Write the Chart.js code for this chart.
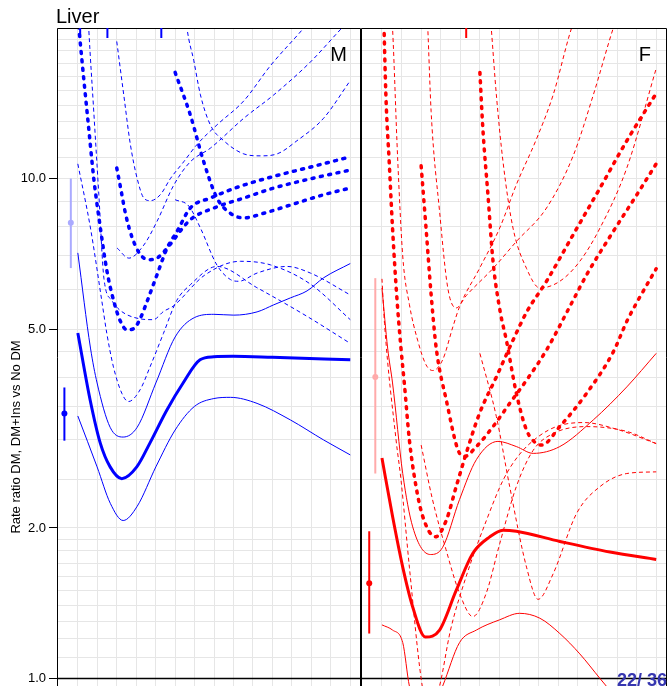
<!DOCTYPE html>
<html>
<head>
<meta charset="utf-8">
<title>Liver</title>
<script src="https://cdn.jsdelivr.net/npm/chart.js@4.4.1/dist/chart.umd.min.js"></script>
<style>
  html, body { margin: 0; padding: 0; background: #fff; }
  #wrap { position: relative; width: 667px; height: 686px; overflow: hidden; }
  #m-panel { position: absolute; left: 0; top: 0; width: 361px; height: 686px; }
  #f-panel { position: absolute; left: 361px; top: 0; width: 306px; height: 686px; }
</style>
</head>
<body>
<div id="wrap">
  <canvas id="m-panel" width="361" height="686"></canvas>
  <canvas id="f-panel" width="306" height="686"></canvas>
</div>
<script>
const FONT = '"Liberation Sans", Arial, Helvetica, sans-serif';
Chart.defaults.font.family = FONT;

// ─── Axes ─────────────────────────────────────────────────────────────────────
const X_MIN = -1.07, X_MAX = 14.5;
const Y_MIN = 0.966, Y_MAX = 20;
const xGrid = [0, 1, 2, 3, 4, 5, 6, 7, 8, 9, 10, 11, 12, 13, 14];
const yGrid = [1, 1.1, 1.2, 1.3, 1.4, 1.5, 1.6, 1.7, 1.8, 1.9, 2, 2.5, 3, 3.5, 4, 4.5,
               5, 6, 7, 8, 9, 10, 11, 12, 13, 14, 15, 16, 17, 18, 19, 20];
const yLabelled = [1, 2, 5, 10];

const BLUE = '#0000ff', RED = '#ff0000';
const PALE_BLUE = '#aaaaff', PALE_RED = '#ffaaaa';

// ─── Reference estimates (point + CI) left of the curves ──────────────────────
const mRefX  = [-0.69, -0.36];
const mRefY  = [3.39, 8.16];
const mRefLo = [2.99, 6.62];
const mRefHi = [3.82, 10.0];

const fRefX  = [-0.65, -0.34];
const fRefY  = [1.55, 4.01];
const fRefLo = [1.23, 2.57];
const fRefHi = [1.97, 6.32];

// rug marks at the top
const mRug = [0.12, 1.52, 4.29];
const fRug = [4.3];

// ─── M: DM vs No DM ───────────────────────────────────────────────────────────
const mDmEst = [[0,4.91],[0.63,3.61],[1.15,2.96],[1.66,2.65],[2.26,2.51],[3.03,2.65],[3.71,2.96],
  [4.57,3.44],[5.41,3.90],[6.28,4.34],[6.99,4.40],[7.98,4.41],[10,4.39],[14,4.34]];
const mDmHi = [[0,7.10],[0.65,4.58],[0.99,3.90],[1.66,3.18],[2.33,3.04],[3.05,3.18],[4.01,3.90],
  [5.0,4.82],[5.99,5.27],[6.99,5.35],[8.01,5.33],[9.21,5.41],[10.07,5.59],[10.92,5.77],
  [11.78,5.96],[12.63,6.33],[14,6.76]];
const mDmLo = [[0,3.35],[0.99,2.65],[1.67,2.24],[2.33,2.07],[3.05,2.21],[4.01,2.65],[5.0,3.14],
  [5.99,3.50],[6.99,3.63],[7.84,3.65],[9.21,3.55],[10.92,3.29],[12.63,3.00],[14,2.80]];

// ─── M: DM+Ins, insulin from 0, 2, 5 ──────────────────────────────────────────
const mIns0 = [[0,21],[0.3,15.9],[0.56,12.6],[0.82,10.0],[1.16,7.96],[1.5,6.52],[1.85,5.68],
  [2.19,5.18],[2.53,4.98],[2.88,5.01],[3.22,5.26],[3.56,5.68],[4.07,6.42],[4.59,7.26],[5.1,7.84],
  [5.78,8.73],[6.81,9.14],[8.35,9.65],[10.07,10.1],[11.78,10.5],[14,11.05]];
const mIns2 = [[2,10.5],[2.2,9.57],[2.46,8.47],[2.8,7.60],[3.22,7.04],[3.65,6.88],[4.07,6.93],
  [4.59,7.26],[5.78,8.27],[6.99,8.73],[8.53,9.14],[10.07,9.57],[11.78,9.95],[14,10.4]];
const mIns5 = [[5,16.3],[5.78,13.4],[6.47,10.8],[7.15,9.14],[7.84,8.52],[8.53,8.34],[9.55,8.52],
  [10.92,8.85],[12.63,9.28],[14,9.57]];

const mBand0A = [[0,10.7],[0.65,7.96],[1.23,5.7],[1.49,4.9],[1.83,4.2],[2.26,3.72],[2.6,3.58],
  [3.2,3.78],[3.71,4.2],[4.4,4.9],[5.08,5.7],[5.78,6.13],[7.15,6.67],[9.2,6.05],[11.78,5.3],[14,4.68]];
const mBand0B = [[0.35,30],[0.56,20],[0.82,13.6],[1.08,9.28],[1.34,6.32],[1.75,5.7],[2.17,5.45],
  [3.2,5.24],[3.88,5.22],[4.4,5.42],[4.91,5.56],[6.5,6.4],[8.35,6.83],[9.89,6.72],[11.95,6.15],[14,5.22]];
const mBand2A = [[2.02,7.26],[2.62,6.93],[3.39,7.36],[4.07,8.21],[4.93,9.7],[5.78,10.8],[6.81,11.5],
  [8.53,13.2],[10.07,14.7],[11.95,17.1],[13.57,20],[14,20.8]];
const mBand2B = [[2,18.8],[2.36,14.7],[2.7,11.7],[3.05,10.0],[3.39,9.14],[3.73,9.03],[4.24,9.28],
  [4.76,10.0],[5.44,10.8],[6.13,11.7],[7.15,12.8],[8.53,14.3],[9.89,16.8],[11.61,20],[14,26]];
const mBand5Hi = [[5,35],[5.61,20],[5.96,17.2],[6.3,14.7],[6.81,12.8],[7.5,11.9],[8.53,11.2],
  [9.38,11.1],[10.24,11.2],[11.26,11.9],[12.63,13.2],[14,15.7]];
const mBand5Lo = [[5,9.07],[5.7,8.81],[6.3,7.96],[7.15,6.71],[7.84,6.28],[8.27,6.23],[9.21,6.47],
  [10.75,6.67],[11.95,6.47],[14,5.85]];

// ─── F: DM vs No DM ───────────────────────────────────────────────────────────
const fDmEst = [[0,2.76],[0.54,2.11],[1.06,1.67],[1.57,1.39],[2.22,1.21],[2.94,1.25],[3.79,1.50],
  [4.64,1.78],[5.5,1.92],[6.18,1.98],[6.86,1.97],[9.08,1.88],[11.64,1.79],[14,1.73]];
const fDmHi = [[0,6.04],[0.29,4.58],[0.54,3.9],[1.06,2.57],[1.57,2.01],[2.47,1.77],[3.1,1.83],
  [3.96,2.28],[4.82,2.74],[5.92,2.98],[6.86,2.91],[7.72,2.82],[9.08,2.91],[10.79,3.29],[12.5,3.83],[14,4.47]];
const fDmLo = [[0,1.28],[0.54,1.25],[1.06,1.18],[1.4,0.966],[2.2,0.8],[3.1,0.966],[3.96,1.18],
  [4.82,1.25],[6.0,1.31],[7.03,1.35],[8.06,1.32],[9.08,1.23],[10.1,1.12],[11.13,1.0],[12.3,0.88],[14,0.72]];

// ─── F: DM+Ins, insulin from 0, 2, 5 ──────────────────────────────────────────
const fIns0 = [[0,30],[0.2,14.7],[0.37,10.8],[0.54,7.96],[0.75,5.86],[0.97,4.58],[1.14,3.9],[1.4,3.0],
  [1.74,2.42],[2.08,2.11],[2.73,1.92],[3.28,2.07],[3.79,2.42],[4.3,2.82],[4.98,3.39],[5.84,4.01],
  [6.69,4.75],[7.38,5.4],[8.4,6.23],[9.76,7.72],[11.13,9.57],[12.5,11.9],[14,14.8]];
const fIns2 = [[2,10.6],[2.25,7.96],[2.51,5.86],[2.77,4.58],[3.28,3.61],[3.96,2.82],[4.22,2.78],
  [4.82,2.91],[5.67,3.19],[6.52,3.55],[7.38,3.95],[8.4,4.54],[9.76,5.71],[10.45,6.42],[11.81,7.84],
  [13.01,9.28],[14,10.7]];
const fIns5 = [[5,16.3],[5.15,12.6],[5.41,9.28],[5.67,6.83],[6.03,5.43],[6.35,4.75],[6.86,3.72],
  [7.38,3.14],[7.89,2.95],[8.15,2.93],[9.08,3.19],[10.45,3.72],[11.81,4.5],[12.5,5.18],[13.01,5.65],[14,6.6]];

const fBand0Hi = [[0,40],[0.54,20],[0.8,11],[1.06,7.0],[1.4,5.6],[1.82,4.75],[2.25,4.24],[2.59,4.13],
  [3.1,4.34],[3.62,5.05],[3.96,5.54],[4.98,6.61],[6.01,7.96],[6.86,9.72],[7.89,12.0],[8.74,14.7],
  [9.68,20],[11,27]];
const fBand0Lo = [[0,6.3],[0.13,5.13],[0.72,3.0],[0.97,2.5],[1.4,1.67],[2.0,1.0],[2.4,0.85],
  [2.94,0.966],[3.5,1.25],[4.3,1.6],[5.33,2.07],[6.2,2.5],[7.0,2.8],[8.0,3.05],[9.0,3.2],
  [10.3,3.25],[12,3.15],[14,2.95]];
const fBand2Hi = [[2,40],[2.34,20],[2.51,13.6],[2.94,8.6],[3.36,6.04],[3.79,5.51],[4.3,5.83],
  [5.67,6.61],[6.86,7.48],[8.4,8.73],[9.76,11.1],[10.79,14.7],[11.81,20],[13,27]];
const fBand2Lo = [[2,2.93],[2.58,2.28],[3.27,1.81],[3.96,1.48],[4.64,1.33],[5.32,1.48],[6.01,1.86],
  [6.86,2.42],[7.72,2.86],[8.74,3.09],[10.45,3.19],[12.5,3.12],[14,2.95]];
const fBand5Hi = [[5,40],[5.58,20],[5.84,14.7],[6.18,10.8],[6.69,7.96],[7.38,6.61],[8.06,6.04],
  [9.08,6.23],[10.1,6.83],[11.13,7.96],[12.5,10.5],[14,16.6]];
const fBand5Lo = [[5,4.47],[5.84,3.34],[6.52,2.42],[7.38,1.67],[7.97,1.44],[8.74,1.62],[9.94,2.14],
  [11.13,2.42],[12.5,2.57],[14,2.59]];

// ─── Dataset helpers ──────────────────────────────────────────────────────────
const STYLE = {
  est:    { borderWidth: 3,   borderDash: [],       borderCapStyle: 'butt' },
  ci:     { borderWidth: 1,   borderDash: [],       borderCapStyle: 'butt' },
  insEst: { borderWidth: 3.5, borderDash: [2, 6.5], borderCapStyle: 'round' },
  insCi:  { borderWidth: 1,   borderDash: [4, 3],   borderCapStyle: 'butt' },
};

function curve(points, color, kind) {
  return Object.assign({
    type: 'line',
    data: points.map(([x, y]) => ({ x, y })),
    borderColor: color,
    pointRadius: 0,
    fill: false,
    clip: 0,
    cubicInterpolationMode: 'monotone',
  }, STYLE[kind]);
}

function refMarks(xs, ys, lo, hi, colors) {
  const out = [];
  xs.forEach((x, i) => {
    out.push({ type: 'line', data: [{ x, y: lo[i] }, { x, y: hi[i] }],
               borderColor: colors[i], borderWidth: 2, pointRadius: 0 });
    out.push({ type: 'scatter', data: [{ x, y: ys[i] }],
               backgroundColor: colors[i], borderWidth: 0, pointRadius: 3, hoverRadius: 3 });
  });
  return out;
}

const unityLine = () => ({ type: 'line', data: [{ x: X_MIN, y: 1 }, { x: X_MAX, y: 1 }],
  borderColor: '#000', borderWidth: 1.5, pointRadius: 0 });

// ─── Plugins ──────────────────────────────────────────────────────────────────
const framePlugin = {
  id: 'frame',
  afterDatasetsDraw(chart) {
    const { ctx, chartArea: a } = chart;
    const l = Math.floor(a.left) + 0.5, r = Math.floor(a.right) + 0.5, t = Math.floor(a.top) + 0.5;
    ctx.save();
    ctx.strokeStyle = '#000';
    ctx.lineWidth = 1;
    ctx.beginPath();
    ctx.moveTo(l, chart.height); ctx.lineTo(l, t);
    ctx.lineTo(r, t); ctx.lineTo(r, chart.height);
    ctx.stroke();
    ctx.restore();
  }
};

function rugPlugin(values, color) {
  return {
    id: 'rug',
    afterDatasetsDraw(chart) {
      const { ctx, chartArea: a, scales } = chart;
      ctx.save();
      ctx.strokeStyle = color;
      ctx.lineWidth = 2;
      values.forEach(v => {
        const x = scales.x.getPixelForValue(v);
        ctx.beginPath(); ctx.moveTo(x, a.top); ctx.lineTo(x, a.top + 10); ctx.stroke();
      });
      ctx.restore();
    }
  };
}

function textPlugin(items) {
  return {
    id: 'texts',
    afterDraw(chart) {
      const { ctx, chartArea: a } = chart;
      items.forEach(it => {
        ctx.save();
        ctx.fillStyle = it.color || '#000';
        ctx.font = it.font;
        ctx.textAlign = it.align || 'left';
        ctx.textBaseline = 'alphabetic';
        const x = typeof it.x === 'function' ? it.x(a) : it.x;
        const y = typeof it.y === 'function' ? it.y(a) : it.y;
        ctx.translate(x, y);
        if (it.rotate) ctx.rotate(it.rotate);
        ctx.fillText(it.text, 0, 0);
        ctx.restore();
      });
    }
  };
}

// ─── Panel options ────────────────────────────────────────────────────────────
function panelOptions(withLabels) {
  return {
    responsive: false,
    animation: false,
    layout: { autoPadding: false, padding: { top: 28, right: 1, bottom: 0, left: 0 } },
    plugins: { legend: { display: false }, tooltip: { enabled: false } },
    scales: {
      x: {
        type: 'linear', min: X_MIN, max: X_MAX,
        afterBuildTicks: s => { s.ticks = xGrid.map(v => ({ value: v })); },
        afterFit: s => { s.height = 0; },
        ticks: { display: false },
        grid: { color: '#e6e6e6', drawTicks: false },
        border: { display: false },
      },
      y: {
        type: 'logarithmic', min: Y_MIN, max: Y_MAX,
        afterBuildTicks: s => { s.ticks = yGrid.map(v => ({ value: v })); },
        afterFit: s => { s.width = withLabels ? 57 : 0; s.paddingTop = 0; s.paddingBottom = 0; },
        grid: {
          color: '#e6e6e6',
          drawTicks: withLabels,
          tickLength: 8,
          tickColor: c => (c.tick && yLabelled.includes(c.tick.value)) ? '#000' : 'rgba(0,0,0,0)',
        },
        border: { display: false },
        ticks: {
          display: withLabels,
          autoSkip: false,
          padding: 3,
          color: '#000',
          font: { size: 13 },
          callback: v => yLabelled.includes(v) ? v.toFixed(1) : '',
        },
      },
    },
  };
}

// ─── M panel ──────────────────────────────────────────────────────────────────
new Chart(document.getElementById('m-panel'), {
  type: 'line',
  data: {
    datasets: [
      curve(mDmEst, BLUE, 'est'),
      curve(mDmHi, BLUE, 'ci'),
      curve(mDmLo, BLUE, 'ci'),
      curve(mIns0, BLUE, 'insEst'),
      curve(mIns2, BLUE, 'insEst'),
      curve(mIns5, BLUE, 'insEst'),
      curve(mBand0A, BLUE, 'insCi'),
      curve(mBand0B, BLUE, 'insCi'),
      curve(mBand2A, BLUE, 'insCi'),
      curve(mBand2B, BLUE, 'insCi'),
      curve(mBand5Hi, BLUE, 'insCi'),
      curve(mBand5Lo, BLUE, 'insCi'),
      ...refMarks(mRefX, mRefY, mRefLo, mRefHi, [BLUE, PALE_BLUE]),
      unityLine(),
    ]
  },
  options: panelOptions(true),
  plugins: [
    framePlugin,
    rugPlugin(mRug, BLUE),
    textPlugin([
      { text: 'Liver', font: '20px ' + FONT, x: a => a.left - 1, y: 23 },
      { text: 'M', font: '20px ' + FONT, align: 'right', x: a => a.right - 13, y: a => a.top + 33 },
      { text: 'Rate ratio DM, DM+Ins vs No DM', font: '13px ' + FONT, align: 'center',
        x: 20, y: 437, rotate: -Math.PI / 2 },
    ]),
  ],
});

// ─── F panel ──────────────────────────────────────────────────────────────────
new Chart(document.getElementById('f-panel'), {
  type: 'line',
  data: {
    datasets: [
      curve(fDmEst, RED, 'est'),
      curve(fDmHi, RED, 'ci'),
      curve(fDmLo, RED, 'ci'),
      curve(fIns0, RED, 'insEst'),
      curve(fIns2, RED, 'insEst'),
      curve(fIns5, RED, 'insEst'),
      curve(fBand0Hi, RED, 'insCi'),
      curve(fBand0Lo, RED, 'insCi'),
      curve(fBand2Hi, RED, 'insCi'),
      curve(fBand2Lo, RED, 'insCi'),
      curve(fBand5Hi, RED, 'insCi'),
      curve(fBand5Lo, RED, 'insCi'),
      ...refMarks(fRefX, fRefY, fRefLo, fRefHi, [RED, PALE_RED]),
      unityLine(),
    ]
  },
  options: panelOptions(false),
  plugins: [
    framePlugin,
    rugPlugin(fRug, RED),
    textPlugin([
      { text: 'F', font: '20px ' + FONT, align: 'right', x: a => a.right - 15, y: a => a.top + 33 },
      { text: '22/ 36', font: 'normal normal bold 18px ' + FONT, color: '#3636b0', x: 256, y: 686 },
    ]),
  ],
});
</script>
</body>
</html>
